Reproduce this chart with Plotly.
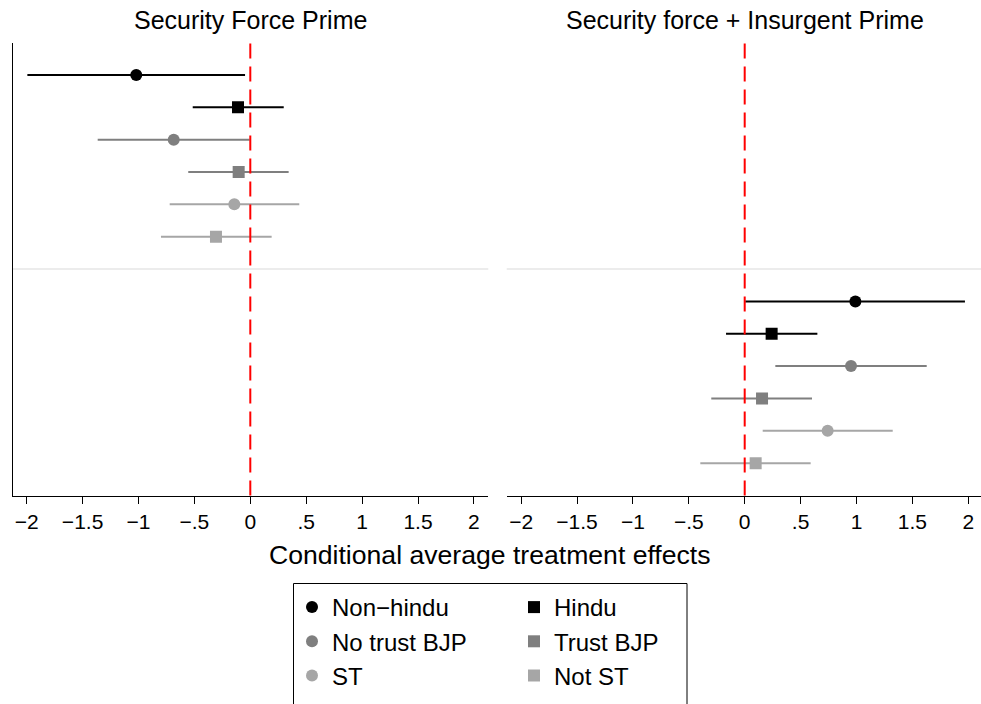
import plotly.graph_objects as go

# Subgroups, in plotting order (top to bottom within each panel)
groups = ["Non\u2212hindu", "Hindu", "No trust BJP", "Trust BJP", "ST", "Not ST"]
symbols = ["circle", "square", "circle", "square", "circle", "square"]
colors = ["#000000", "#000000", "#7f7f7f", "#7f7f7f", "#a6a6a6", "#a6a6a6"]

# Security Force Prime: estimate and 95% CI bounds
sf_est = [-1.02, -0.11, -0.685, -0.104, -0.143, -0.307]
sf_lo = [-1.994, -0.515, -1.365, -0.555, -0.721, -0.799]
sf_hi = [-0.047, 0.299, -0.006, 0.343, 0.438, 0.191]
sf_pos = [1, 2, 3, 4, 5, 6]

# Security force + Insurgent Prime: estimate and 95% CI bounds
si_est = [0.99, 0.241, 0.951, 0.155, 0.742, 0.098]
si_lo = [0.005, -0.167, 0.274, -0.299, 0.161, -0.397]
si_hi = [1.970, 0.650, 1.628, 0.602, 1.324, 0.590]
si_pos = [8, 9, 10, 11, 12, 13]

tick_vals = [-2, -1.5, -1, -0.5, 0, 0.5, 1, 1.5, 2]
tick_text = ["\u22122", "\u22121.5", "\u22121", "\u2212.5", "0", ".5", "1", "1.5", "2"]

panel_titles = ["Security Force Prime", "Security force + Insurgent Prime"]
x_title = "Conditional average treatment effects"

FONT = "Liberation Sans, Arial, Helvetica, sans-serif"
W, H = 981, 704

fig = go.Figure()

panels = [
    ("x", sf_est, sf_lo, sf_hi, sf_pos),
    ("x2", si_est, si_lo, si_hi, si_pos),
]

for pi, (xa, est, lo, hi, pos) in enumerate(panels):
    for i, name in enumerate(groups):
        # confidence interval
        fig.add_trace(go.Scatter(
            x=[lo[i], hi[i]], y=[pos[i], pos[i]], xaxis=xa, yaxis="y",
            mode="lines", line=dict(color=colors[i], width=2),
            showlegend=False, hoverinfo="skip",
        ))
    for i, name in enumerate(groups):
        # point estimate; circles go in the first legend column, squares in the second
        fig.add_trace(go.Scatter(
            x=[est[i]], y=[pos[i]], xaxis=xa, yaxis="y",
            mode="markers", name=name,
            marker=dict(symbol=symbols[i], size=12, color=colors[i], line=dict(width=0)),
            legend="legend" if symbols[i] == "circle" else "legend2",
            showlegend=(pi == 0),
        ))

px_per_unit = 111.8
left_x0, left_x1 = 12.7, 488.3
right_x0, right_x1 = 506.7, 981.0
left_zero, right_zero = 250.3, 744.7

xr1 = [(left_x0 - left_zero) / px_per_unit, (left_x1 - left_zero) / px_per_unit]
xr2 = [(right_x0 - right_zero) / px_per_unit, (right_x1 - right_zero) / px_per_unit]

y_top, y_bot = 42.6, 495.5

axis_common = dict(
    tickmode="array", tickvals=tick_vals, ticktext=tick_text,
    ticks="outside", ticklen=7, tickwidth=1, tickcolor="black",
    showline=True, linecolor="black", linewidth=1.3,
    showgrid=False, zeroline=False,
    tickfont=dict(family=FONT, size=21, color="black"),
    fixedrange=True,
)

legend_common = dict(
    orientation="v", yanchor="top", xanchor="left",
    y=1 - 585 / H, borderwidth=0, bgcolor="rgba(0,0,0,0)",
    font=dict(family=FONT, size=24, color="black"),
)

fig.update_layout(
    width=W, height=H,
    margin=dict(l=0, r=0, t=0, b=0, autoexpand=False),
    paper_bgcolor="white", plot_bgcolor="white",
    xaxis=dict(domain=[left_x0 / W, left_x1 / W], range=xr1, anchor="y", **axis_common),
    xaxis2=dict(domain=[right_x0 / W, right_x1 / W], range=xr2, anchor="y", **axis_common),
    yaxis=dict(domain=[1 - y_bot / H, 1 - y_top / H], range=[14, 0],
               showticklabels=False, ticks="", showgrid=False, zeroline=False,
               showline=True, linecolor="black", linewidth=1.3, fixedrange=True),
    showlegend=True,
    legend=dict(x=292 / W, **legend_common),
    legend2=dict(x=514 / W, **legend_common),
    font=dict(family=FONT, color="black"),
)

# legend frame
fig.add_shape(type="rect", xref="paper", yref="paper",
              x0=293.5 / W, x1=687 / W, y0=-0.05, y1=1 - 583.5 / H,
              line=dict(color="black", width=1), fillcolor="white", layer="above")

# separator line and zero reference line in each panel
for xa in ["x", "x2"]:
    fig.add_shape(type="line", xref=f"{xa} domain", yref="y", x0=0, x1=1, y0=7, y1=7,
                  line=dict(color="#e6e6e6", width=1.5), layer="below")
    fig.add_shape(type="line", xref=xa, yref="y domain", x0=0, x1=0, y0=0, y1=1,
                  line=dict(color="#ff0000", width=2, dash="15px,8px"))

# panel titles
for title, x0, x1 in [(panel_titles[0], left_x0, left_x1), (panel_titles[1], right_x0, 982.7)]:
    fig.add_annotation(text=title, xref="paper", yref="paper",
                       x=(x0 + x1) / 2 / W, y=1 - 20 / H, xanchor="center", yanchor="middle",
                       showarrow=False, font=dict(family=FONT, size=25, color="black"))

# shared x-axis title
fig.add_annotation(text=x_title, xref="paper", yref="paper",
                   x=490 / W, y=1 - 555 / H, xanchor="center", yanchor="middle",
                   showarrow=False, font=dict(family=FONT, size=26.6, color="black"))

fig.write_html("out.html")
